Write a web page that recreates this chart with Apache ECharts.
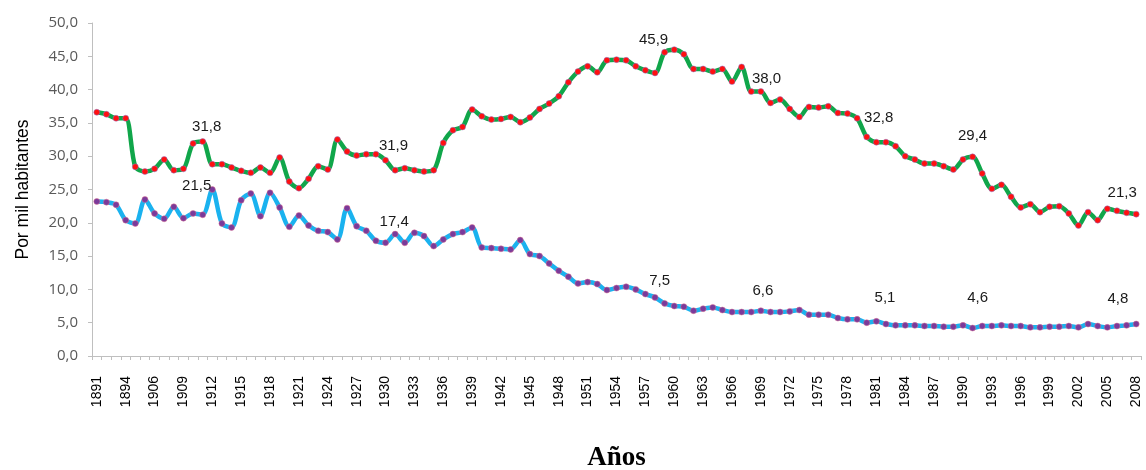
<!DOCTYPE html>
<html>
<head>
<meta charset="utf-8">
<script src="https://cdn.jsdelivr.net/npm/echarts@6/dist/echarts.min.js"></script>
<style>
  html, body { margin: 0; padding: 0; background: #fff; }
  #chart { width: 1146px; height: 470px; }
</style>
</head>
<body>
<div id="chart"></div>
<script>
// años (las posiciones 4 y 5 no llevan rótulo en el original)
var years = [
  '1891','1892','1893','1894','1895','1900',
  '1906','1907','1908','1909','1910','1911','1912','1913','1914','1915','1916','1917','1918','1919',
  '1920','1921','1922','1923','1924','1925','1926','1927','1928','1929',
  '1930','1931','1932','1933','1934','1935','1936','1937','1938','1939',
  '1940','1941','1942','1943','1944','1945','1946','1947','1948','1949',
  '1950','1951','1952','1953','1954','1955','1956','1957','1958','1959',
  '1960','1961','1962','1963','1964','1965','1966','1967','1968','1969',
  '1970','1971','1972','1973','1974','1975','1976','1977','1978','1979',
  '1980','1981','1982','1983','1984','1985','1986','1987','1988','1989',
  '1990','1991','1992','1993','1994','1995','1996','1997','1998','1999',
  '2000','2001','2002','2003','2004','2005','2006','2007','2008'
];

// tasa de natalidad (verde)
var natalidad = [
  36.6, 36.3, 35.7, 35.7, 28.4, 27.7,
  28.1, 29.5, 27.9, 28.1, 31.9, 32.2, 28.8, 28.8, 28.3, 27.8, 27.5, 28.3, 27.5, 29.8,
  26.2, 25.2, 26.6, 28.5, 28.0, 32.5, 30.7, 30.1, 30.3, 30.3,
  29.4, 27.9, 28.2, 27.9, 27.7, 27.9, 32.0, 33.9, 34.4, 37.0,
  36.0, 35.5, 35.6, 35.9, 35.1, 35.8, 37.1, 37.9, 39.0, 41.1,
  42.7, 43.5, 42.6, 44.4, 44.5, 44.4, 43.5, 42.9, 42.5, 45.6,
  46.0, 45.3, 43.1, 43.1, 42.7, 43.1, 41.2, 43.4, 39.7, 39.7,
  38.0, 38.5, 37.1, 35.9, 37.4, 37.3, 37.5, 36.5, 36.4, 35.7,
  32.9, 32.1, 32.1, 31.5, 30.0, 29.5, 28.9, 28.9, 28.5, 28.0,
  29.5, 29.9, 27.4, 25.1, 25.7, 23.9, 22.3, 22.8, 21.6, 22.4,
  22.5, 21.4, 19.6, 21.6, 20.4, 22.1, 21.8, 21.5, 21.3
];

// tasa de mortalidad (celeste)
var mortalidad = [
  23.2, 23.1, 22.7, 20.4, 19.9, 23.5,
  21.4, 20.6, 22.4, 20.7, 21.4, 21.2, 25.0, 19.9, 19.3, 23.4, 24.4, 21.0, 24.5, 22.3,
  19.4, 21.1, 19.6, 18.8, 18.6, 17.5, 22.2, 19.5, 18.8, 17.3,
  17.0, 18.3, 17.0, 18.5, 18.0, 16.5, 17.5, 18.3, 18.6, 19.3,
  16.3, 16.2, 16.1, 16.0, 17.4, 15.3, 15.0, 13.9, 12.8, 11.9,
  10.9, 11.1, 10.8, 9.9, 10.2, 10.4, 10.0, 9.3, 8.8, 7.9,
  7.5, 7.4, 6.8, 7.1, 7.3, 6.9, 6.6, 6.6, 6.6, 6.8,
  6.6, 6.6, 6.7, 6.9, 6.2, 6.2, 6.2, 5.7, 5.5, 5.5,
  5.0, 5.2, 4.8, 4.6, 4.6, 4.6, 4.5, 4.5, 4.4, 4.4,
  4.6, 4.2, 4.5, 4.5, 4.6, 4.5, 4.5, 4.3, 4.3, 4.4,
  4.4, 4.5, 4.3, 4.8, 4.5, 4.3, 4.5, 4.6, 4.8
];

// rótulos de datos: año y texto
var natLabelYears = ['1911', '1930', '1959', '1970', '1980', '1991', '2008'];
var natLabelText  = ['31,8', '31,9', '45,9', '38,0', '32,8', '29,4', '21,3'];
var morLabelYears = ['1911', '1931', '1959', '1969', '1982', '1991', '2006'];
var morLabelText  = ['21,5', '17,4', '7,5', '6,6', '5,1', '4,6', '4,8'];

// desplazamiento de cada rótulo respecto a su punto (px)
var natLabelShift = [[4, -15], [8, -14], [-11, -12], [-4, -24], [12, -19], [0, -21], [-14, -21]];
var morLabelShift = [[-6, -29], [-1, -12], [-5, -23], [2, -20], [-1, -26], [5, -30], [1, -27]];

var sans = '"Liberation Sans", Arial, sans-serif';

function withLabels(values, lblYears, lblText, shifts) {
    return values.map(function (v, i) {
        var k = lblYears.indexOf(years[i]);
        if (k < 0) return v;
        return {
            value: v,
            label: {
                show: true,
                position: 'inside',
                offset: shifts[k],
                formatter: lblText[k],
                color: '#1a1a1a',
                fontSize: 15,
                fontFamily: sans
            }
        };
    });
}

var chart = echarts.init(document.getElementById('chart'), null, { renderer: 'canvas' });

var option = {
    backgroundColor: '#fff',
    animation: false,
    grid: { left: 92, right: 5, top: 23, bottom: 114, outerBoundsMode: 'none', containLabel: false },
    xAxis: {
        type: 'category',
        data: years,
        boundaryGap: true,
        name: 'Años',
        nameLocation: 'middle',
        nameGap: 89,
        nameTextStyle: {
            fontFamily: '"Liberation Serif", "Times New Roman", serif',
            fontWeight: 'bold',
            fontSize: 27,
            color: '#000'
        },
        axisLine: { lineStyle: { color: '#bfbfbf', width: 1 } },
        axisTick: { show: true, interval: 0, length: 4, lineStyle: { color: '#bfbfbf' } },
        axisLabel: {
            interval: 2,
            rotate: 90,
            margin: 20,
            color: '#000',
            fontSize: 14,
            fontFamily: sans
        },
        splitLine: { show: false }
    },
    yAxis: {
        type: 'value',
        min: 0,
        max: 50,
        interval: 5,
        name: 'Por mil habitantes',
        nameLocation: 'middle',
        nameGap: 60,
        nameRotate: 90,
        nameTextStyle: { fontFamily: sans, fontSize: 17.5, color: '#000' },
        axisLine: { show: true, lineStyle: { color: '#bfbfbf' } },
        axisTick: { show: true, length: 4, lineStyle: { color: '#bfbfbf' } },
        axisLabel: {
            margin: 14,
            color: '#595959',
            fontSize: 15,
            fontFamily: '"Open Sans", sans-serif',
            formatter: function (v) { return v.toFixed(1).replace('.', ','); }
        },
        splitLine: { show: false }
    },
    series: [
        {
            name: 'Natalidad',
            type: 'line',
            smooth: 0.3,
            showAllSymbol: true,
            symbol: 'circle',
            symbolSize: 6,
            itemStyle: { color: '#ff1010', borderColor: '#8a7bd0', borderWidth: 0.5 },
            lineStyle: { color: '#10a64a', width: 4.5 },
            data: withLabels(natalidad, natLabelYears, natLabelText, natLabelShift)
        },
        {
            name: 'Mortalidad',
            type: 'line',
            smooth: 0.3,
            showAllSymbol: true,
            symbol: 'circle',
            symbolSize: 6,
            itemStyle: { color: '#7a3a9a', borderColor: '#e07090', borderWidth: 0.5 },
            lineStyle: { color: '#1ab2ef', width: 4.5 },
            data: withLabels(mortalidad, morLabelYears, morLabelText, morLabelShift)
        }
    ]
};

chart.setOption(option);
</script>
</body>
</html>
